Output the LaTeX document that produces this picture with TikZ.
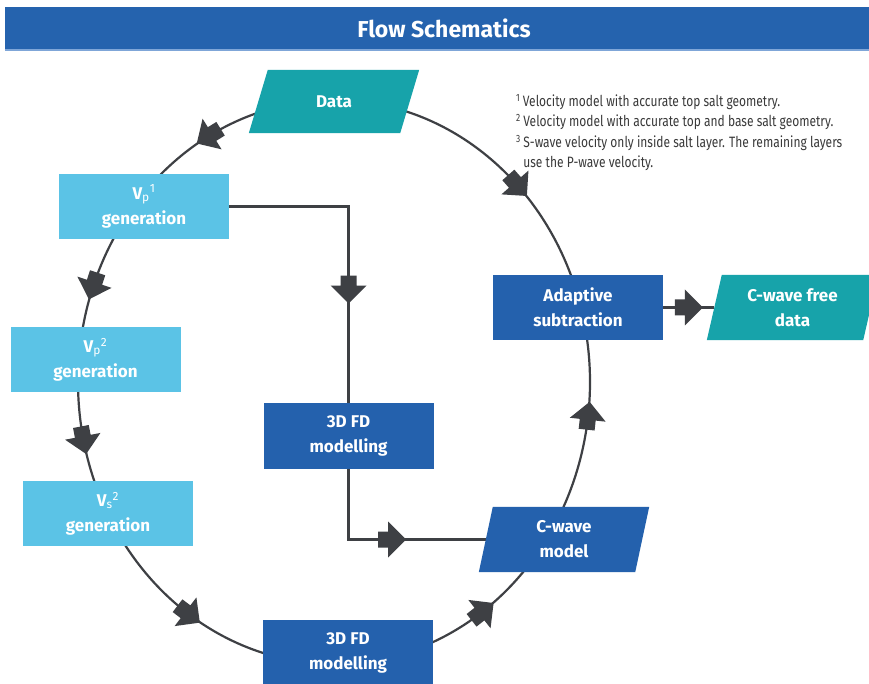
\documentclass[tikz,border=0pt]{standalone}
\usepackage{fontspec}
\setmainfont{Fira Sans}
\newfontfamily\notefont{Fira Sans}[FakeStretch=0.8]
\usetikzlibrary{decorations.markings}
\definecolor{titleblue}{HTML}{2563AE}
\definecolor{titleline}{HTML}{7FA6D8}
\definecolor{darkblue}{HTML}{2461AD}
\definecolor{lightblue}{HTML}{5BC3E6}
\definecolor{tealc}{HTML}{17A3AA}
\definecolor{arrowc}{HTML}{3E4044}
\definecolor{notec}{HTML}{3A3A3A}
\pgfdeclarelayer{paper}\pgfdeclarelayer{bg}\pgfdeclarelayer{shp}\pgfsetlayers{paper,bg,shp,main}
\newcommand\pgramfill[3]{%
  \begin{pgfonlayer}{shp}
    \fill[#3] ([xshift=-#2pt]#1.south west) -- ([xshift=-#2pt]#1.south east)
      -- ([xshift=#2pt]#1.north east) -- ([xshift=#2pt]#1.north west) -- cycle;
  \end{pgfonlayer}}
\newcommand\ellarc[3]{% start, end, arrow pos
  \draw[flowline, blockarrow=#3] (c) ++(#1:256 and 282)
    arc[start angle=#1, end angle=#2, x radius=256, y radius=282];}
\begin{document}
\begin{tikzpicture}[x=1pt,y=1pt,
  box/.style={minimum width=170pt, minimum height=65pt, inner sep=0pt, align=center,
    text=white, font=\bfseries\fontsize{17}{25}\selectfont},
  lbox/.style={box, fill=lightblue},
  dbox/.style={box, fill=darkblue},
  pbox/.style={box, minimum width=156pt},
  flowline/.style={draw=arrowc, line width=2.2pt},
  blockarrow/.style={postaction={decorate}, decoration={markings,
    mark=at position #1 with {\fill[arrowc] (-14,-8) -- (-4,-8) -- (-4,-18) -- (14,0)
      -- (-4,18) -- (-4,8) -- (-14,8) -- cycle;}}}
]
\useasboundingbox (0,0) rectangle (869,683);
\begin{pgfonlayer}{paper}
\fill[white] (0,0) rectangle (869,683);
\end{pgfonlayer}

% title
\node[fill=titleblue, minimum width=878pt, minimum height=43pt, inner sep=0pt,
  text=white, font=\bfseries\fontsize{23}{26}\selectfont] (title) at (444,654.5) {Flow Schematics};
\draw[titleline, line width=1.5pt] (title.south west) -- (title.south east);

% nodes
\node[box, minimum width=151pt, minimum height=63pt] (data) at (334,581.5) {Data};
\pgramfill{data}{9.5}{tealc}
\node[lbox] (vp1) at (144,476.5) {V\textsubscript{\mdseries p}\textsuperscript{\mdseries 1}\\generation};
\node[lbox] (vp2) at (95.5,323.5) {V\textsubscript{\mdseries p}\textsuperscript{\mdseries 2}\\generation};
\node[lbox] (vs2) at (108,169.5) {V\textsubscript{\mdseries s}\textsuperscript{\mdseries 2}\\generation};
\node[dbox] (fdmid) at (348.5,247) {3D FD\\modelling};
\node[dbox] (fdbot) at (348,30.5) {3D FD\\modelling};
\node[pbox] (cwave) at (564,143.5) {C-wave\\model};
\pgramfill{cwave}{7}{darkblue}
\node[dbox] (adapt) at (578,375.5) {Adaptive\\subtraction};
\node[pbox] (cfree) at (792.5,375.5) {C-wave free\\data};
\pgramfill{cfree}{7.5}{tealc}

% footnotes
\node[anchor=north west, inner sep=0pt, align=left, text=notec,
  font=\notefont\fontsize{15}{20.5}\selectfont] (notes) at (516,589)
  {\textsuperscript{1}\,Velocity model with accurate top salt geometry.\\
   \textsuperscript{2}\,Velocity model with accurate top and base salt geometry.\\
   \textsuperscript{3}\,S-wave velocity only inside salt layer. The remaining layers\\
   \hphantom{\textsuperscript{3}\,}use the P-wave velocity.};

% connectors
\begin{pgfonlayer}{bg}
\coordinate (c) at (334,301);
\ellarc{98}{140}{0.5}
\ellarc{145}{175}{0.5}
\ellarc{176}{208}{0.5}
\ellarc{208}{264}{0.5}
\ellarc{280}{330}{0.5}
\ellarc{326}{380}{0.5}
\ellarc{78}{12}{0.5}
\draw[flowline, blockarrow=0.64] (vp1.east) -| (fdmid.north);
\draw[flowline, blockarrow=0.55] (fdmid.south) |- (cwave.west);
\draw[flowline, blockarrow=0.5] (adapt.east) -- (cfree.west);
\end{pgfonlayer}
\end{tikzpicture}
\end{document}
